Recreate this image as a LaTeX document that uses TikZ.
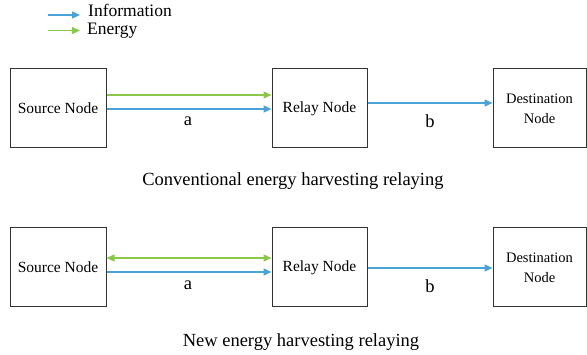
\documentclass[tikz,border=0pt]{standalone}
\usepackage{fontspec}
\setmainfont{Liberation Serif}
\usetikzlibrary{arrows.meta}
\definecolor{infoblue}{RGB}{74,163,214}
\definecolor{energygreen}{RGB}{138,200,74}
\tikzset{
  box/.style={draw=black!80, line width=1pt, inner sep=0pt, align=center},
  info/.style={draw=infoblue, line width=1.4pt, -{Triangle[length=8pt,width=7pt]}},
  energy/.style={draw=energygreen, line width=1.4pt, -{Triangle[length=8pt,width=7pt]}},
  energy2/.style={draw=energygreen, line width=1.4pt, {Triangle[length=8pt,width=7pt]}-{Triangle[length=8pt,width=7pt]}},
  lbl/.style={inner sep=0pt, font=\fontsize{18.5}{22}\selectfont},
  leg/.style={inner sep=0pt, font=\fontsize{17.5}{20}\selectfont},
  nodetext/.style={font=\fontsize{15.5}{20}\selectfont},
  desttext/.style={font=\fontsize{14.5}{20}\selectfont}
}
\begin{document}
\begin{tikzpicture}[x=1pt,y=-1pt]
\useasboundingbox (0,0) rectangle (587,355);
% legend
\coordinate (li1) at (48,15);
\coordinate (li2) at (80,15);
\coordinate (le1) at (48,30.5);
\coordinate (le2) at (80,30.5);
\draw[info] (li1) -- (li2);
\draw[energy] (le1) -- (le2);
\node[leg, anchor=base west, text depth=0pt] (tinfo) at (88,17) {Information};
\node[leg, anchor=base west] (tenergy) at (87,35) {Energy};
% row 1
\node[box, nodetext, minimum width=96pt, minimum height=79pt] (s1) at (58,108.5) {Source Node};
\node[box, nodetext, minimum width=95pt, minimum height=79pt] (r1) at (319.5,108.5) {Relay Node};
\node[box, desttext, minimum width=93pt, minimum height=79pt] (d1) at (539.5,108.5) {Destination\\Node};
\draw[energy] ([yshift=13.5pt]s1.east) -- ([yshift=13.5pt]r1.west);
\draw[info] ([yshift=-0.5pt]s1.east) -- ([yshift=-0.5pt]r1.west);
\draw[info] ([yshift=5.5pt]r1.east) -- ([yshift=5.5pt]d1.west);
\node[lbl] (a1) at (188,121) {a};
\node[lbl] (b1) at (430,121) {b};
\node[lbl] (c1) at (293,181) {Conventional energy harvesting relaying};
% row 2
\node[box, nodetext, minimum width=96pt, minimum height=79pt] (s2) at (58,267.5) {Source Node};
\node[box, nodetext, minimum width=95pt, minimum height=79pt] (r2) at (319.5,267.5) {Relay Node};
\node[box, desttext, minimum width=93pt, minimum height=79pt] (d2) at (539.5,267.5) {Destination\\Node};
\draw[energy2] ([yshift=9.5pt]s2.east) -- ([yshift=9.5pt]r2.west);
\draw[info] ([yshift=-4.5pt]s2.east) -- ([yshift=-4.5pt]r2.west);
\draw[info] ([yshift=-0.5pt]r2.east) -- ([yshift=-0.5pt]d2.west);
\node[lbl] (a2) at (188,285) {a};
\node[lbl] (b2) at (430,286) {b};
\node[lbl] (c2) at (301,342) {New energy harvesting relaying};
\end{tikzpicture}
\end{document}
